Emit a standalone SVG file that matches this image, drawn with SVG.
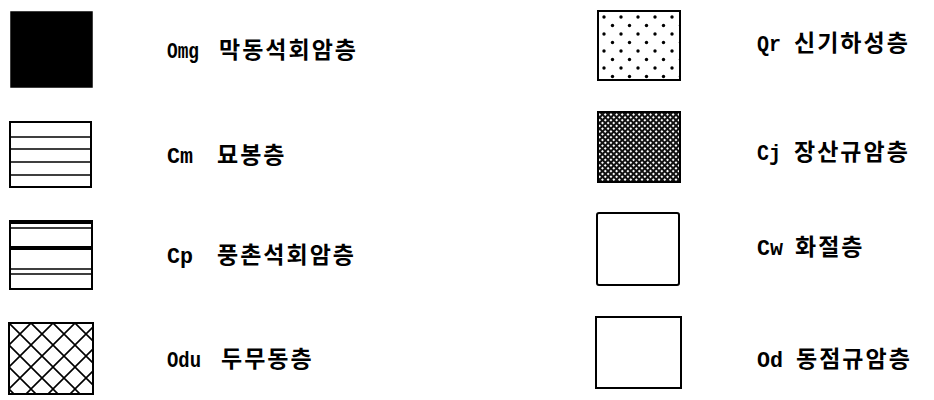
<svg xmlns="http://www.w3.org/2000/svg" width="934" height="400" viewBox="0 0 934 400">
<style>
.box{fill:none;stroke:#000;stroke-width:2}
.lat{font-family:"Liberation Mono","DejaVu Sans Mono",monospace;font-size:22px;font-weight:bold;fill:#000}
.kor{font-family:"Noto Sans CJK KR","Noto Sans CJK SC",sans-serif;font-size:23px;font-weight:600;fill:#000;letter-spacing:2px}
.ln{stroke:#000;fill:none}
</style>
<defs>
<pattern id="dots" width="17" height="17" patternUnits="userSpaceOnUse" x="598" y="11">
<circle cx="6" cy="6" r="1.7" fill="#000"/>
<circle cx="14.5" cy="14.5" r="1.7" fill="#000"/>
</pattern>
<pattern id="check" width="4" height="4" patternUnits="userSpaceOnUse" patternTransform="rotate(45)">
<rect width="4" height="4" fill="#111"/>
<rect width="2" height="2" fill="#fff"/>
</pattern>
<pattern id="hatch" width="22" height="22" patternUnits="userSpaceOnUse" x="9" y="323">
<path d="M0 0L22 22M22 0L0 22" stroke="#000" stroke-width="1.6"/>
</pattern>
</defs>

<g id="node-omg">
<rect x="11" y="12" width="81" height="75" fill="#000" stroke="#000" stroke-width="1.5"/>
<text x="167" y="58" class="lat" textLength="32" lengthAdjust="spacingAndGlyphs">Omg</text>
<text x="219" y="58" class="kor">막동석회암층</text>
</g>

<g id="node-cm">
<rect x="10" y="122" width="81" height="65" class="box"/>
<path class="ln" stroke-width="1.5" d="M10 137H91M10 149H91M10 162H91M10 175H91"/>
<text x="167" y="163" class="lat" textLength="26" lengthAdjust="spacingAndGlyphs">Cm</text>
<text x="217" y="163" class="kor" letter-spacing="3">묘봉층</text>
</g>

<g id="node-cp">
<rect x="10" y="221" width="82" height="68" class="box"/>
<rect x="10" y="220" width="82" height="4" fill="#000"/>
<path class="ln" stroke-width="1.5" d="M10 228H92M10 269H92M10 274H92"/>
<rect x="10" y="246" width="82" height="4" fill="#000"/>
<text x="167" y="263" class="lat" textLength="26" lengthAdjust="spacingAndGlyphs">Cp</text>
<text x="217" y="263" class="kor" letter-spacing="3">풍촌석회암층</text>
</g>

<g id="node-odu">
<rect x="9" y="323" width="84" height="71" fill="url(#hatch)" stroke="#000" stroke-width="2"/>
<text x="167" y="367" class="lat" textLength="34" lengthAdjust="spacingAndGlyphs">Odu</text>
<text x="221" y="367" class="kor">두무동층</text>
</g>

<g id="node-qr">
<rect x="598" y="11" width="82" height="69" fill="url(#dots)" stroke="#000" stroke-width="2"/>
<text x="757" y="51" class="lat" textLength="24" lengthAdjust="spacingAndGlyphs">Qr</text>
<text x="794" y="51" class="kor">신기하성층</text>
</g>

<g id="node-cj">
<rect x="598" y="112" width="82" height="70" fill="url(#check)" stroke="#000" stroke-width="2"/>
<text x="757" y="160" class="lat" textLength="24" lengthAdjust="spacingAndGlyphs">Cj</text>
<text x="794" y="160" class="kor">장산규암층</text>
</g>

<g id="node-cw">
<rect x="597" y="213" width="82" height="72" rx="2" class="box"/>
<text x="757" y="255" class="lat" textLength="26" lengthAdjust="spacingAndGlyphs">Cw</text>
<text x="795" y="255" class="kor">화절층</text>
</g>

<g id="node-od">
<rect x="596" y="317" width="85" height="71" class="box"/>
<text x="757" y="367" class="lat" textLength="26" lengthAdjust="spacingAndGlyphs">Od</text>
<text x="796" y="367" class="kor">동점규암층</text>
</g>

<g id="connectors"></g>
</svg>
